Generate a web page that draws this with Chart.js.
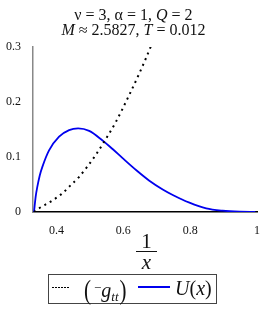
<!doctype html>
<html>
<head>
<meta charset="utf-8">
<script src="https://cdn.jsdelivr.net/npm/chart.js@4.4.0/dist/chart.umd.min.js"></script>
<style>
  * { box-sizing: border-box; }
  html, body { margin: 0; padding: 0; background: #fff; }
  body { width: 267px; height: 311px; position: relative; overflow: hidden;
    font-family: 'Liberation Serif', 'Times New Roman', 'DejaVu Serif', serif; color: #111; }
  .wrap { position: absolute; left: 0; top: 0; width: 267px; height: 311px; }
  .title { position: absolute; left: 0; width: 267px; text-align: center; font-size: 16px; line-height: 16px; white-space: nowrap; }
  .frac { position: absolute; left: 136px; top: 231px; width: 21px; text-align: center; font-size: 21px; }
  .frac .num { display: block; line-height: 20px; height: 20px; }
  .frac .bar { display: block; height: 1.3px; background: #111; margin: 0 0 3px; }
  .frac .den { display: block; line-height: 14px; font-style: italic; }
  .legend { position: absolute; left: 48px; top: 274px; width: 169px; height: 30px; border: 1.4px solid #444; }
  .legend .dots { position: absolute; left: 3px; top: 11.5px; width: 17px; height: 1.6px;
    background: repeating-linear-gradient(to right, #000 0 1.6px, transparent 1.6px 3px); }
  .legend .line { position: absolute; left: 89px; top: 11px; width: 32px; height: 1.8px; background: #0000ee; }
  .legend .lab { position: absolute; top: 1px; font-size: 20px; line-height: 24px; white-space: nowrap; }
  .legend .par { display: inline-block; transform: scaleY(1.25); font-size: 21px; }
  .legend sup { font-size: 13px; vertical-align: 5px; margin-left: 3px; }
  .legend sub { font-size: 13px; vertical-align: -4px; margin-right: 1px; }
</style>
</head>
<body>
<div class="wrap"><canvas id="c"></canvas></div>
<div class="title" style="top:7px">ν = 3, α = 1, <i>Q</i> = 2</div>
<div class="title" style="top:22px"><i>M</i> ≈ 2.5827, <i>T</i> = 0.012</div>
<div class="frac"><span class="num">1</span><span class="bar"></span><span class="den">x</span></div>
<div class="legend">
  <span class="dots"></span>
  <span class="lab" style="left:35px"><span class="par">(</span><sup>−</sup><i>g</i><sub><i>tt</i></sub><span class="par">)</span></span>
  <span class="line"></span>
  <span class="lab" style="left:126px"><i>U</i>(<i>x</i>)</span>
</div>
<script>
var uX = [0.333, 0.338, 0.343, 0.350, 0.358, 0.378, 0.408, 0.438, 0.465, 0.498, 0.538, 0.568, 0.598, 0.640, 0.678, 0.718, 0.748, 0.798, 0.848, 0.897, 0.948, 0.995];
var uY = [0, 0.028, 0.046, 0.066, 0.082, 0.112, 0.137, 0.149, 0.152, 0.1475, 0.130, 0.1145, 0.098, 0.0755, 0.057, 0.041, 0.031, 0.017, 0.0067, 0.0024, 0.0005, 0];
var gX = [0.333, 0.348, 0.383, 0.418, 0.443, 0.468, 0.518, 0.543, 0.578, 0.618, 0.648, 0.683, 0.70];
var gY = [0, 0.0067, 0.019, 0.034, 0.049, 0.064, 0.104, 0.128, 0.164, 0.213, 0.252, 0.302, 0.33];
var xTicks = [0.4, 0.6, 0.8, 1];
var yTicks = [0, 0.1, 0.2, 0.3];

function pts(xs, ys) { return xs.map(function (x, i) { return { x: x, y: ys[i] }; }); }
function fmt(v) { return String(Math.round(v * 10) / 10); }

var tickFont = { family: "'Liberation Serif', 'Times New Roman', serif", size: 12 };

new Chart(document.getElementById('c'), {
  type: 'scatter',
  data: {
    datasets: [
      { data: pts(gX, gY), showLine: true, borderColor: '#000', borderWidth: 2,
        borderDash: [2, 4.2], pointRadius: 0, cubicInterpolationMode: 'monotone', fill: false },
      { data: pts(uX, uY), showLine: true, borderColor: '#0000ee', borderWidth: 1.8,
        pointRadius: 0, cubicInterpolationMode: 'monotone', fill: false }
    ]
  },
  options: {
    responsive: true,
    maintainAspectRatio: false,
    animation: false,
    layout: { padding: { left: 0, right: 10, top: 47, bottom: 0 } },
    plugins: { legend: { display: false }, tooltip: { enabled: false } },
    scales: {
      x: {
        type: 'linear', min: 0.33, max: 1,
        afterBuildTicks: function (s) { s.ticks = xTicks.map(function (v) { return { value: v }; }); },
        afterFit: function (s) { s.height = 99; },
        ticks: { callback: fmt, font: tickFont, color: '#111', padding: 4, maxRotation: 0 },
        grid: { display: false },
        border: { display: true, color: '#000', width: 1.5 }
      },
      y: {
        min: 0, max: 0.3,
        afterBuildTicks: function (s) { s.ticks = yTicks.map(function (v) { return { value: v }; }); },
        afterFit: function (s) { s.width = 33; },
        ticks: { callback: fmt, font: tickFont, color: '#111', padding: 4 },
        grid: { display: false },
        border: { display: true, color: '#888', width: 1.5 }
      }
    }
  }
});
</script>
</body>
</html>
